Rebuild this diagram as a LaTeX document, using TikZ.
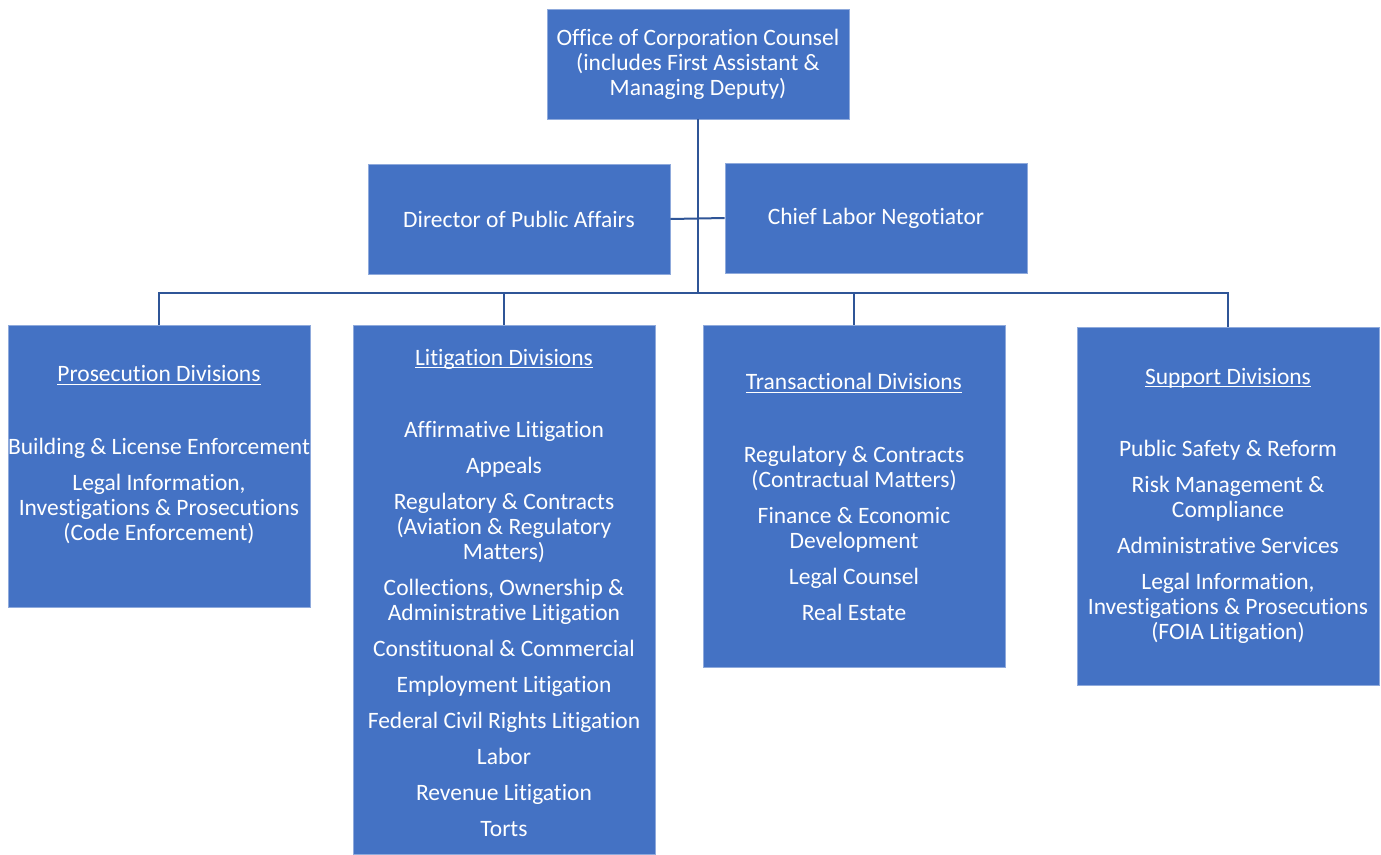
\documentclass[tikz,border=0pt]{standalone}
\usepackage{fontspec}
\setmainfont{Carlito}[Ligatures=NoCommon]
\definecolor{boxfill}{HTML}{4472C4}
\definecolor{boxedge}{HTML}{8FAADC}
\definecolor{linkc}{HTML}{2F5597}
% underlined heading, rule just below the baseline; the strut fixes the first line height
\newcommand\divtitle[1]{\rule{0pt}{20pt}\setbox0\hbox{#1}\rlap{\rule[-3pt]{\wd0}{1.2pt}}\box0}
\begin{document}
\begin{tikzpicture}[x=1pt,y=-1pt,
  orgbox/.style={rectangle, fill=boxfill, draw=boxedge, line width=0.6pt,
    inner sep=0pt, text=white, align=center,
    font=\fontsize{23.5}{25}\selectfont},
  divtext/.style={inner sep=0pt, text=white, align=center, anchor=north,
    font=\fontsize{23.5}{25}\selectfont},
  link/.style={draw=linkc, line width=2pt}]
\useasboundingbox (0,0) rectangle (1381,854);

% top level
\node[orgbox, minimum width=302pt, minimum height=110pt] (ocs) at (698,64)
  {Office of Corporation Counsel\\(includes First Assistant \&\\Managing Deputy)};

% staff positions
\node[orgbox, minimum width=302pt, minimum height=110pt] (dpa) at (519,219)
  {Director of Public Affairs};
\node[orgbox, minimum width=302pt, minimum height=110pt] (cln) at (876,218)
  {Chief Labor Negotiator};

% division boxes
\node[orgbox, minimum width=302pt, minimum height=282pt] (pros) at (159,466) {};
\node[orgbox, minimum width=302pt, minimum height=529pt] (lit) at (504,589.5) {};
\node[orgbox, minimum width=302pt, minimum height=342pt] (trans) at (854,496) {};
\node[orgbox, minimum width=302pt, minimum height=358pt] (sup) at (1228,506) {};

% division contents (north edge = first baseline - 20pt)
\node[divtext] (prosT) at (159,361.7) {\divtitle{Prosecution Divisions}\\[47.5pt]
  Building \& License Enforcement\\[11pt]
  Legal Information,\\Investigations \& Prosecutions\\(Code Enforcement)};
\node[divtext] (litT) at (504,345) {\divtitle{Litigation Divisions}\\[47.5pt]
  Affirmative Litigation\\[11pt]
  Appeals\\[11pt]
  Regulatory \& Contracts\\(Aviation \& Regulatory\\Matters)\\[11pt]
  Collections, Ownership \&\\Administrative Litigation\\[11pt]
  Constituonal \& Commercial\\[11pt]
  Employment Litigation\\[11pt]
  Federal Civil Rights Litigation\\[11pt]
  Labor\\[11pt]
  Revenue Litigation\\[11pt]
  Torts};
\node[divtext] (transT) at (854,369.5) {\divtitle{Transactional Divisions}\\[47.5pt]
  Regulatory \& Contracts\\(Contractual Matters)\\[11pt]
  Finance \& Economic\\Development\\[11pt]
  Legal Counsel\\[11pt]
  Real Estate};
\node[divtext] (supT) at (1228,364) {\divtitle{Support Divisions}\\[47.5pt]
  Public Safety \& Reform\\[11pt]
  Risk Management \&\\Compliance\\[11pt]
  Administrative Services\\[11pt]
  Legal Information,\\Investigations \& Prosecutions\\(FOIA Litigation)};

% connectors
\coordinate (bus) at (698,293);
\draw[link] (ocs.south) -- (bus);
\draw[link] (dpa.east) -- (cln.west);
\draw[link] (pros.north) |- (bus) -| (sup.north);
\draw[link] (lit.north) -- (lit.north |- bus);
\draw[link] (trans.north) -- (trans.north |- bus);
\end{tikzpicture}
\end{document}
